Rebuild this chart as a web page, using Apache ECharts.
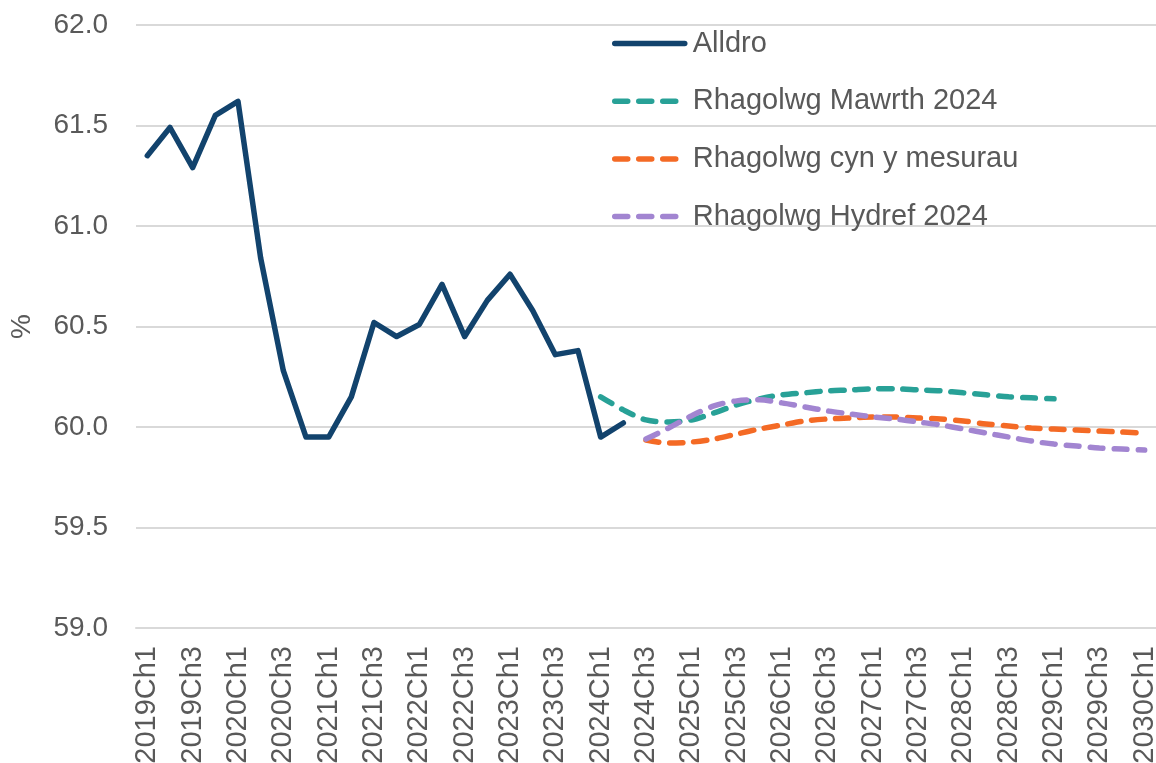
<!DOCTYPE html>
<html>
<head>
<meta charset="utf-8">
<script src="https://cdn.jsdelivr.net/npm/echarts@6/dist/echarts.min.js"></script>
<style>
  html, body { margin: 0; padding: 0; background: #fff; }
  #chart { width: 1156px; height: 763px; }
</style>
</head>
<body>
<div id="chart"></div>
<script>
// quarters 2019Ch1 .. 2030Ch1
var years = [2019, 2020, 2021, 2022, 2023, 2024, 2025, 2026, 2027, 2028, 2029, 2030];
var quarters = [];
years.forEach(function (y) {
  for (var q = 1; q <= 4; q++) {
    if (y === 2030 && q > 1) break;
    quarters.push(y + 'Ch' + q);
  }
});

// Alldro (outturn) 2019Ch1 .. 2024Ch2
var alldro = [61.35, 61.49, 61.29, 61.55, 61.62, 60.84, 60.28, 59.95, 59.95, 60.15,
  60.52, 60.45, 60.51, 60.71, 60.45, 60.63, 60.76, 60.58, 60.36, 60.38, 59.95, 60.02];

// Rhagolwg Mawrth 2024, 2024Ch1 .. 2029Ch1
var mawrth = [60.15, 60.085, 60.035, 60.025, 60.035, 60.07, 60.11, 60.14, 60.16, 60.17,
  60.18, 60.184, 60.19, 60.19, 60.185, 60.18, 60.17, 60.16, 60.15, 60.145, 60.14];

// Rhagolwg cyn y mesurau, 2024Ch3 .. 2030Ch1
var cyn = [59.935, 59.92, 59.925, 59.94, 59.965, 59.99, 60.01, 60.03, 60.04, 60.045,
  60.05, 60.05, 60.045, 60.04, 60.03, 60.015, 60.005, 59.995, 59.99, 59.985, 59.98, 59.975, 59.97];

// Rhagolwg Hydref 2024, 2024Ch3 .. 2030Ch1
var hydref = [59.94, 59.995, 60.055, 60.105, 60.13, 60.135, 60.12, 60.10, 60.08, 60.065,
  60.05, 60.04, 60.025, 60.01, 59.99, 59.97, 59.95, 59.93, 59.915, 59.905, 59.895, 59.89, 59.885];

function place(values, start) {
  var out = quarters.map(function () { return null; });
  values.forEach(function (v, i) { out[start + i] = v; });
  return out;
}

var font = "'Liberation Sans', Arial, sans-serif";
var textColor = '#595959';
var dash = [13, 11];

var chart = echarts.init(document.getElementById('chart'));
chart.setOption({
  animation: false,
  grid: { left: 136, right: 0, top: 25, bottom: 135, outerBoundsMode: 'none', containLabel: false },
  legend: {
    orient: 'vertical',
    left: 607,
    top: 24,
    itemWidth: 70,
    itemHeight: 28,
    itemGap: 28.7,
    itemStyle: { opacity: 0 },
    lineStyle: { width: 5.5, cap: 'round' },
    textStyle: { fontFamily: font, fontSize: 29, color: textColor, lineHeight: 28, padding: [0, 0, 0, 3] },
    data: ['Alldro', 'Rhagolwg Mawrth 2024', 'Rhagolwg cyn y mesurau', 'Rhagolwg Hydref 2024']
  },
  xAxis: {
    type: 'category',
    data: quarters,
    boundaryGap: true,
    axisLine: { lineStyle: { color: '#d9d9d9', width: 2 } },
    axisTick: { show: false },
    axisLabel: {
      interval: 1,
      rotate: 90,
      margin: 18,
      fontFamily: font,
      fontSize: 29,
      color: textColor
    }
  },
  yAxis: {
    type: 'value',
    min: 59,
    max: 62,
    interval: 0.5,
    name: '%',
    nameLocation: 'middle',
    nameGap: 100,
    nameRotate: 90,
    nameTextStyle: { fontFamily: font, fontSize: 28, color: textColor },
    axisLine: { show: false },
    axisTick: { show: false },
    axisLabel: {
      margin: 28,
      fontFamily: font,
      fontSize: 28,
      color: textColor,
      formatter: function (v) { return v.toFixed(1); }
    },
    splitLine: { lineStyle: { color: '#d9d9d9', width: 2 } }
  },
  series: [
    {
      name: 'Alldro',
      type: 'line',
      data: place(alldro, 0),
      symbol: 'none',
      color: '#12436D',
      lineStyle: { width: 5.5, color: '#12436D', cap: 'round', join: 'round' },
      z: 5
    },
    {
      name: 'Rhagolwg Mawrth 2024',
      type: 'line',
      data: place(mawrth, 20),
      symbol: 'none',
      smooth: 0.3,
      color: '#28A197',
      lineStyle: { width: 5.5, color: '#28A197', type: dash, cap: 'round' }
    },
    {
      name: 'Rhagolwg cyn y mesurau',
      type: 'line',
      data: place(cyn, 22),
      symbol: 'none',
      smooth: 0.3,
      color: '#F46A25',
      lineStyle: { width: 5.5, color: '#F46A25', type: dash, cap: 'round' }
    },
    {
      name: 'Rhagolwg Hydref 2024',
      type: 'line',
      data: place(hydref, 22),
      symbol: 'none',
      smooth: 0.3,
      color: '#A285D1',
      lineStyle: { width: 5.5, color: '#A285D1', type: dash, cap: 'round' }
    }
  ]
});
window.addEventListener('resize', function () {
  chart.resize();
});
</script>
</body>
</html>
